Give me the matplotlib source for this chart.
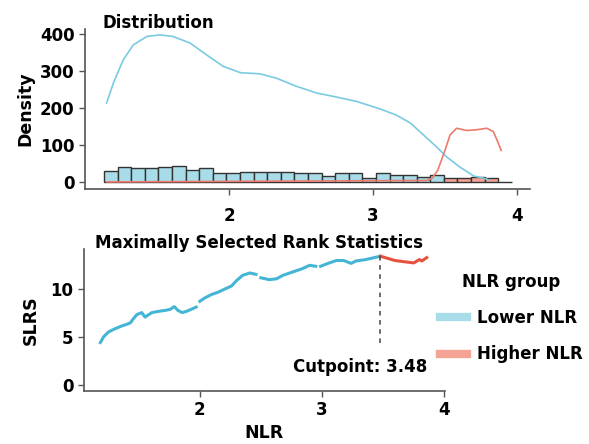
import matplotlib
matplotlib.use("Agg")
import matplotlib.pyplot as plt
from matplotlib.lines import Line2D
import numpy as np

plt.rcParams['font.family'] = ['DejaVu Sans']
plt.rcParams['font.weight'] = 'bold'

# --- histogram (Density panel) ---
bin_start = 1.132
bin_width = 0.0944
lower_counts = [30, 41, 39, 37, 40, 44, 31, 37, 25, 25, 28, 28, 28, 28, 23,
                23, 16, 23, 25, 12, 23, 18, 18, 14, 18]
higher_counts = [12, 10, 13, 11, 0]

# density curves
kde_low_x = [1.15, 1.197, 1.266, 1.335, 1.43, 1.52, 1.61, 1.73, 1.845, 1.96, 2.08,
             2.215, 2.33, 2.47, 2.61, 2.75, 2.89, 3.05, 3.16, 3.26, 3.35, 3.44,
             3.51, 3.60, 3.70, 3.77, 3.80]
kde_low_y = [213, 267, 330, 370, 393, 397, 393, 375, 343, 312, 295,
             292, 280, 258, 240, 229, 217, 197, 181, 159, 127, 95,
             68, 41, 16, 10, 6]
kde_high_x = [1.15, 3.37, 3.41, 3.45, 3.50, 3.535, 3.58, 3.65, 3.72, 3.79, 3.835, 3.86, 3.89]
kde_high_y = [0, 4, 10, 32, 86, 127, 145, 139, 141, 145, 136, 114, 85]

# --- maximally selected rank statistics ---
cutpoint = 3.48
slrs_low_x = [1.184, 1.21, 1.25, 1.306, 1.36, 1.40, 1.43, 1.456, 1.483, 1.524, 1.55,
              1.606, 1.66, 1.714, 1.755, 1.79, 1.82, 1.856, 1.89, 1.945, 1.97, np.nan,
              2.0, 2.04, 2.095, 2.15, 2.20, 2.26, 2.30, 2.35, 2.41, 2.46, np.nan,
              2.50, 2.57, 2.63, 2.68, 2.76, 2.84, 2.90, 2.95, np.nan,
              2.99, 3.05, 3.12, 3.18, 3.24, 3.28, 3.36, 3.43, 3.48]
slrs_low_y = [4.45, 5.03, 5.55, 5.9, 6.18, 6.35, 6.5, 6.95, 7.36, 7.57, 7.1,
              7.57, 7.7, 7.8, 7.9, 8.2, 7.8, 7.57, 7.7, 8.0, 8.15, np.nan,
              8.75, 9.1, 9.45, 9.7, 10.0, 10.35, 10.9, 11.45, 11.7, 11.56, np.nan,
              11.2, 11.0, 11.1, 11.45, 11.8, 12.15, 12.5, 12.4, np.nan,
              12.4, 12.7, 13.0, 13.0, 12.7, 12.95, 13.1, 13.3, 13.45]
slrs_high_x = [3.48, 3.52, 3.60, 3.69, 3.755, 3.80, 3.82, 3.86]
slrs_high_y = [13.45, 13.3, 13.0, 12.85, 12.75, 13.1, 12.95, 13.3]

col_low_fill = '#A8DCE9'
col_high_fill = '#F4A394'
col_low_line = '#45B5D6'
col_high_line = '#E6513F'
spine_col = '#555555'

fig = plt.figure(figsize=(5.89, 4.44), dpi=100)

# top panel
ax1 = fig.add_axes([85/589, 1-189/444, 445/589, 160/444])
left = bin_start + bin_width*np.arange(len(lower_counts))
ax1.bar(left, lower_counts, width=bin_width, align='edge', color=col_low_fill,
        edgecolor='#333333', linewidth=1, zorder=2)
left_h = bin_start + bin_width*(len(lower_counts) + np.arange(len(higher_counts)))
ax1.bar(left_h, higher_counts, width=bin_width, align='edge', color=col_high_fill,
        edgecolor='#333333', linewidth=1, zorder=2)
ax1.plot(kde_low_x, kde_low_y, color='#7ACBE2', lw=1.2, zorder=3)
ax1.plot(kde_high_x, kde_high_y, color='#EE7A6C', lw=1.2, zorder=3)
ax1.set_xlim(1.0, 4.09)
ax1.set_ylim(-19, 413)
ax1.set_xticks([2, 3, 4])
ax1.set_yticks([0, 100, 200, 300, 400])
ax1.set_ylabel('Density', fontsize=12.5, fontweight='bold', labelpad=4)
ax1.text(0.04, 1.04, 'Distribution', transform=ax1.transAxes, fontsize=12,
         fontweight='bold', va='center', ha='left')

# bottom panel
ax2 = fig.add_axes([84/589, 1-391/444, 361/589, 142/444])
ax2.plot(slrs_low_x, slrs_low_y, color=col_low_line, lw=2.2, label='Lower NLR')
ax2.plot(slrs_high_x, slrs_high_y, color=col_high_line, lw=2.2, label='Higher NLR')
ymin_stat = np.nanmin(slrs_low_y)
ax2.vlines(cutpoint, ymin_stat, slrs_low_y[-1], colors='#444444', linestyles=(0, (3, 3)), lw=1.1)
ax2.text(cutpoint - 0.17, 1.9, 'Cutpoint: %.2f' % cutpoint, fontsize=12,
         fontweight='bold', ha='center', va='center')
ax2.set_xlim(1.05, 4.01)
ax2.set_ylim(-0.6, 14.2)
ax2.set_xticks([2, 3, 4])
ax2.set_yticks([0, 5, 10])
ax2.set_xlabel('NLR', fontsize=12.5, fontweight='bold', labelpad=3)
ax2.set_ylabel('SLRS', fontsize=12.5, fontweight='bold', labelpad=8)
ax2.set_title('Maximally Selected Rank Statistics', fontsize=12, fontweight='bold',
              loc='left', x=0.03, y=1.0, pad=1)

for ax in (ax1, ax2):
    for s in ('top', 'right'):
        ax.spines[s].set_visible(False)
    for s in ('left', 'bottom'):
        ax.spines[s].set_color(spine_col)
        ax.spines[s].set_linewidth(1.2)
    ax.tick_params(axis='both', colors=spine_col, labelcolor='black', length=4,
                   width=1, labelsize=12)
    for lab in ax.get_xticklabels() + ax.get_yticklabels():
        lab.set_fontweight('bold')
ax1.tick_params(axis='x', pad=9)

# legend
handles = [Line2D([], [], color=col_low_fill, lw=6), Line2D([], [], color=col_high_fill, lw=6)]
leg = fig.legend(handles, ['Lower NLR', 'Higher NLR'], title='NLR group',
                 loc='center left', bbox_to_anchor=(425/589, 1-318/444), frameon=False,
                 prop={'size': 12, 'weight': 'bold'}, handlelength=1.6,
                 labelspacing=1.1, handletextpad=0.6)
leg.get_title().set_fontweight('bold')
leg.get_title().set_fontsize(12)

fig.savefig('out.png', dpi=100)
